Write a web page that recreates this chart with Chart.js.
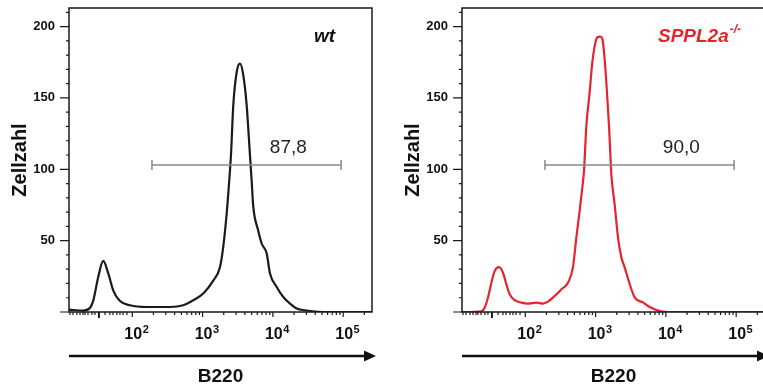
<!DOCTYPE html>
<html lang="de">
<head>
<meta charset="utf-8">
<script src="https://cdn.jsdelivr.net/npm/chart.js@4.4.1/dist/chart.umd.min.js"></script>
<style>
  html, body { margin: 0; padding: 0; background: #fff; }
  body { width: 763px; height: 391px; overflow: hidden; position: relative; }
  .panel { position: absolute; top: 0; width: 380px; height: 391px; }
  #panelWt { left: 0; }
  #panelKo { left: 393px; }
</style>
</head>
<body>
<div class="panel" id="panelWt"><canvas id="chartWt" width="380" height="391"></canvas></div>
<div class="panel" id="panelKo"><canvas id="chartKo" width="380" height="391"></canvas></div>
<script>
// B220 in Dekaden der Anzeige (2 = 10^2, 3 = 10^3 ...), Zellzahl auf y
const wtX = [1.10, 1.30, 1.40, 1.445, 1.516, 1.587, 1.659, 1.730, 1.825, 1.967, 2.205, 2.536, 2.725, 2.868, 3.010, 3.152, 3.248, 3.294, 3.343, 3.380, 3.404, 3.437, 3.485, 3.532, 3.579, 3.627, 3.674, 3.698, 3.721, 3.792, 3.841, 3.912, 3.959, 4.054, 4.148, 4.243, 4.339, 4.457, 4.70, 5.41];
const wtY = [1.7, 1, 3, 8, 24.5, 35.8, 27, 15, 7.7, 4.7, 3.5, 3.5, 4.7, 8.2, 13, 22, 31.5, 45.6, 69, 92.4, 110, 145, 168, 174, 166, 145, 110, 92, 74, 57, 48, 41, 27, 17.5, 10.5, 5.9, 2.4, 1.2, 0, 0];

const koX = [1.10, 1.376, 1.422, 1.469, 1.518, 1.565, 1.626, 1.683, 1.731, 1.778, 1.849, 1.945, 2.038, 2.158, 2.252, 2.323, 2.418, 2.514, 2.607, 2.678, 2.727, 2.774, 2.812, 2.835, 2.869, 2.916, 2.949, 2.987, 3.026, 3.068, 3.097, 3.129, 3.162, 3.191, 3.225, 3.272, 3.319, 3.367, 3.414, 3.485, 3.556, 3.674, 3.770, 3.912, 4.10, 5.41];
const koY = [0, 0.5, 3, 10, 20.5, 28.7, 31.5, 27.5, 19.4, 12.5, 8.3, 6.6, 5.9, 6.6, 5.9, 7.3, 11.2, 15.9, 20.5, 31.3, 52.3, 71, 87.4, 98.7, 130.5, 154, 172.7, 186.3, 192.5, 193, 191.4, 177.3, 154, 130.5, 96, 75.3, 52.3, 38.2, 31.3, 19.6, 10.2, 6.7, 3.5, 0.7, 0, 0];

const xMin = 1.1, xMax = 5.41;
const yMax = 213;
const xTickDecades = [2, 3, 4, 5];
const xTickBase = '10';
const xTickExponents = ['2', '3', '4', '5'];
const yTickValues = [50, 100, 150, 200];
const xZeroTick = 1.526;
const xMinorTicks = [1.114, 1.156, 1.213, 1.256, 1.299, 1.327, 1.370, 1.427, 1.469, 1.612, 1.683, 1.725, 1.782, 1.825, 1.868, 1.925];
for (let k = 2; k <= 5; k++) {
  for (let m = 2; m <= 9; m++) {
    const v = k + Math.log10(m);
    if (v < xMax) xMinorTicks.push(v);
  }
}

const gateWt = { from: 2.28, to: 4.97, level: 103, label: '87,8' };
const gateKo = { from: 2.28, to: 4.97, level: 103, label: '90,0' };
const gateLabelAt = 4.22;

const FONT = '"Liberation Sans", Arial, Helvetica, sans-serif';
const RED = '#e5242e';

// Rahmen, Ticks, Dekaden-Beschriftung, Gate, Pfeil, Probenname
const deko = {
  id: 'deko',
  afterDraw(chart, args, opts) {
    const { ctx, chartArea: a, scales: { x, y } } = chart;
    ctx.save();
    ctx.strokeStyle = '#1a1a1a';
    ctx.lineWidth = 1.5;
    ctx.strokeRect(a.left, a.top, a.right - a.left, a.bottom - a.top);

    ctx.lineWidth = 1.2;
    ctx.beginPath();
    for (let v = 0; v <= yMax; v += 10) {
      const py = y.getPixelForValue(v);
      const len = v % 50 === 0 ? 9 : 3;
      ctx.moveTo(a.left - len, py);
      ctx.lineTo(a.left, py);
    }
    xTickDecades.forEach(v => {
      const px = x.getPixelForValue(v);
      ctx.moveTo(px, a.bottom);
      ctx.lineTo(px, a.bottom + 5);
    });
    xMinorTicks.forEach(v => {
      const px = x.getPixelForValue(v);
      ctx.moveTo(px, a.bottom);
      ctx.lineTo(px, a.bottom + 3);
    });
    ctx.stroke();
    ctx.lineWidth = 2;
    ctx.beginPath();
    const pz = x.getPixelForValue(xZeroTick);
    ctx.moveTo(pz, a.bottom);
    ctx.lineTo(pz, a.bottom + 6);
    ctx.stroke();

    // 10^n unter den Dekaden
    ctx.fillStyle = '#111';
    xTickDecades.forEach((v, i) => {
      const px = x.getPixelForValue(v);
      ctx.font = 'bold 16px ' + FONT;
      ctx.textAlign = 'center';
      ctx.textBaseline = 'alphabetic';
      ctx.fillText(xTickBase, px + 1, a.bottom + 27);
      const w = ctx.measureText(xTickBase).width;
      ctx.font = 'bold 11px ' + FONT;
      ctx.textAlign = 'left';
      ctx.fillText(xTickExponents[i], px + 1 + w / 2 + 0.5, a.bottom + 21);
    });

    // Gate
    const g = opts.gate;
    const gx1 = x.getPixelForValue(g.from);
    const gx2 = x.getPixelForValue(g.to);
    const gy = y.getPixelForValue(g.level);
    ctx.strokeStyle = '#8a8a8a';
    ctx.lineWidth = 1.5;
    ctx.beginPath();
    ctx.moveTo(gx1, gy); ctx.lineTo(gx2, gy);
    ctx.moveTo(gx1, gy - 5); ctx.lineTo(gx1, gy + 5);
    ctx.moveTo(gx2, gy - 5); ctx.lineTo(gx2, gy + 5);
    ctx.stroke();
    ctx.fillStyle = '#222';
    ctx.font = '19px ' + FONT;
    ctx.textAlign = 'center';
    ctx.textBaseline = 'middle';
    ctx.fillText(g.label, x.getPixelForValue(gateLabelAt), gy - 17);

    // Pfeil unter der Achse
    const ay = a.bottom + 44;
    const tip = a.right + 4;
    ctx.strokeStyle = '#111';
    ctx.fillStyle = '#111';
    ctx.lineWidth = 2.6;
    ctx.beginPath();
    ctx.moveTo(a.left, ay); ctx.lineTo(tip - 8, ay);
    ctx.stroke();
    ctx.beginPath();
    ctx.moveTo(tip, ay); ctx.lineTo(tip - 12, ay - 5.5); ctx.lineTo(tip - 12, ay + 5.5);
    ctx.closePath();
    ctx.fill();

    // Probenname
    ctx.fillStyle = opts.nameColor;
    ctx.textBaseline = 'alphabetic';
    ctx.font = 'italic bold 19px ' + FONT;
    if (opts.sup) {
      ctx.textAlign = 'left';
      const nx = a.left + opts.nameX;
      ctx.fillText(opts.name, nx, a.top + 34);
      const w = ctx.measureText(opts.name).width;
      ctx.font = 'italic bold 12px ' + FONT;
      ctx.fillText(opts.sup, nx + w + 1, a.top + 25);
    } else {
      ctx.textAlign = 'right';
      ctx.fillText(opts.name, a.left + opts.nameX, a.top + 34);
    }
    ctx.restore();
  }
};

function makeChart(id, xs, ys, color, gate, name, nameX, sup) {
  return new Chart(document.getElementById(id), {
    type: 'line',
    data: {
      datasets: [{
        data: xs.map((v, i) => ({ x: v, y: ys[i] })),
        borderColor: color,
        borderWidth: 2.2,
        pointRadius: 0,
        fill: false,
        cubicInterpolationMode: 'monotone'
      }]
    },
    options: {
      responsive: false,
      animation: false,
      layout: { padding: { left: 0, right: 8, top: 8, bottom: 0 } },
      plugins: {
        legend: { display: false },
        tooltip: { enabled: false },
        deko: { gate, name, nameX, sup, nameColor: sup ? RED : '#111' }
      },
      scales: {
        x: {
          type: 'linear',
          min: xMin, max: xMax,
          afterBuildTicks: s => { s.ticks = xTickDecades.map(v => ({ value: v })); },
          afterFit: s => { s.height = 79; s.paddingLeft = 0; s.paddingRight = 0; },
          grid: { display: false, drawTicks: false },
          border: { display: false },
          ticks: { display: false },
          title: {
            display: true, text: 'B220', color: '#111',
            font: { family: FONT, size: 19, weight: 'bold' },
            padding: { top: 0, bottom: 3 }
          }
        },
        y: {
          min: 0, max: yMax,
          afterBuildTicks: s => { s.ticks = yTickValues.map(v => ({ value: v })); },
          afterFit: s => { s.width = 69; s.paddingTop = 0; s.paddingBottom = 0; },
          grid: { display: false, drawTicks: false },
          border: { display: false },
          ticks: {
            font: { family: FONT, size: 13, weight: 'bold' },
            color: '#111',
            padding: 14
          },
          title: {
            display: true, text: 'Zellzahl', color: '#111',
            font: { family: FONT, size: 20, weight: 'bold' },
            padding: { top: 8, bottom: 0 }
          }
        }
      }
    },
    plugins: [deko]
  });
}

makeChart('chartWt', wtX, wtY, '#1a1a1a', gateWt, 'wt', 266, null);
makeChart('chartKo', koX, koY, RED, gateKo, 'SPPL2a', 196, '-/-');
</script>
</body>
</html>
